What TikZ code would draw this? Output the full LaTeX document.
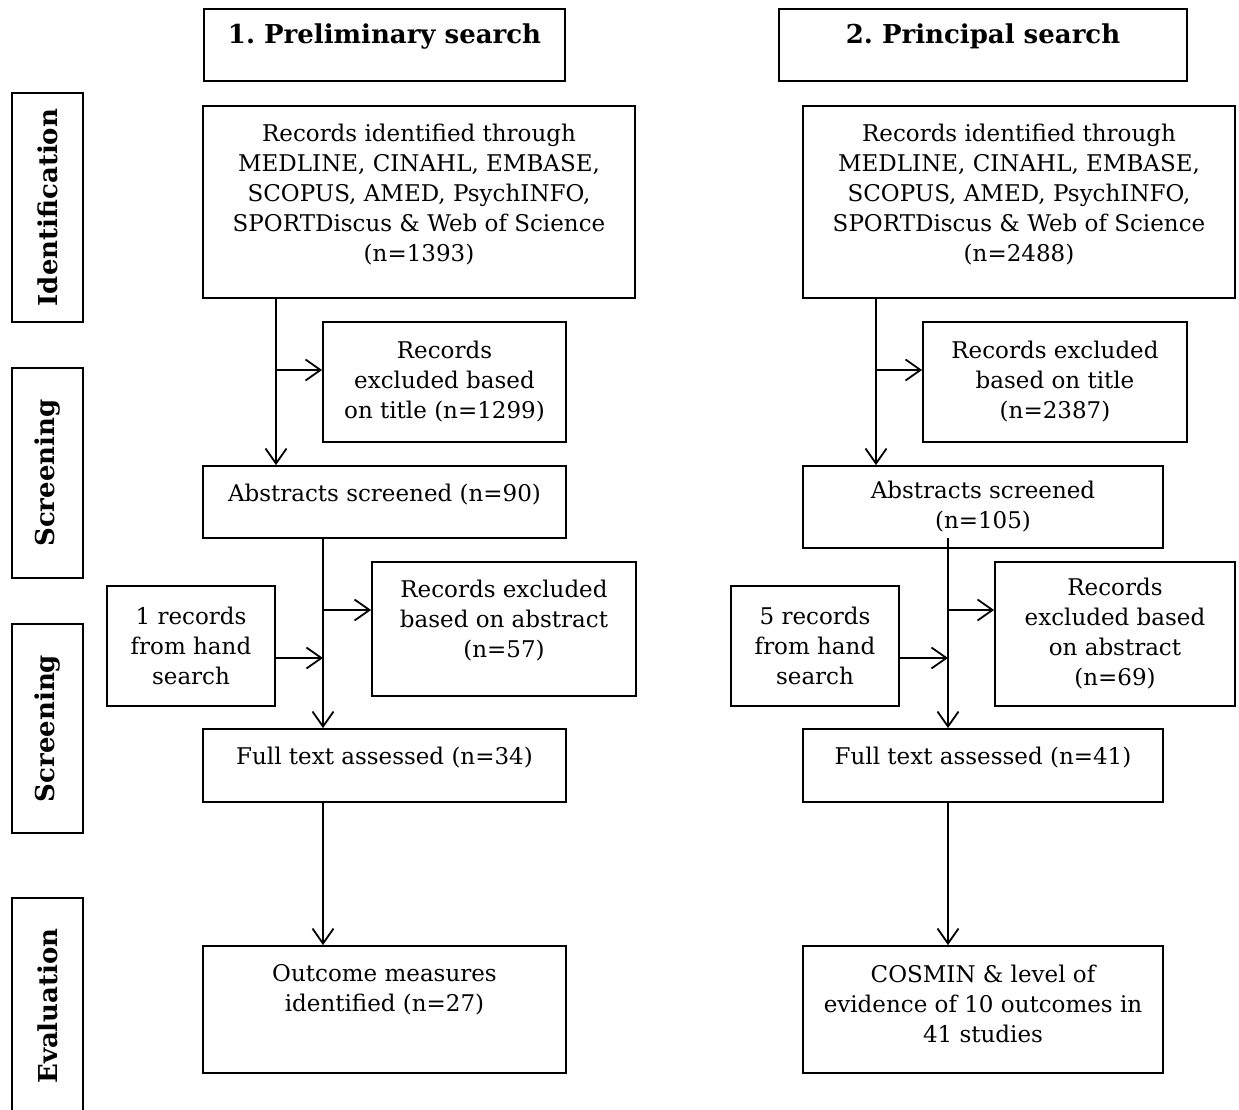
\documentclass[tikz,border=0pt]{standalone}
\usepackage{fontspec}
\setmainfont{DejaVu Serif}
\usetikzlibrary{arrows.meta}
\newcommand{\lift}[1]{\rule[-#1]{0pt}{#1}}
\frenchspacing
\begin{document}
\begin{tikzpicture}[x=1pt, y=-1pt, line width=1.8pt,
        box/.style={draw, align=center, inner sep=0pt, font=\fontsize{23}{30}\selectfont},
        head/.style={draw, align=center, inner sep=0pt, minimum height=72pt, font=\fontsize{26}{30}\selectfont\bfseries},
        side/.style={draw, rotate=90, inner sep=0pt, minimum height=71pt, font=\fontsize{26}{30}\selectfont\bfseries},
        arr/.style={-{Straight Barb[length=15pt,width=21pt]}}]
                \useasboundingbox (0, 0) rectangle (1239, 1110);

                \node[head, minimum width=361pt] (hdrL) at (384.5, 45) {1. Preliminary search\lift{22pt}};
                \node[head, minimum width=408pt] (hdrR) at (983, 45) {2. Principal search\lift{22pt}};

                \node[side, minimum width=229pt] (sId) at (47.5, 207.5) {Identification};
                \node[side, minimum width=210pt] (sScrA) at (47.5, 473) {Screening};
                \node[side, minimum width=209pt] (sScrB) at (47.5, 728.5) {Screening};
                \node[side, minimum width=216pt] (sEval) at (47.5, 1006) {Evaluation};

                \node[box, minimum width=432pt, minimum height=192pt] (recL) at (419, 202) {Records identified through\\MEDLINE, CINAHL, EMBASE,\\SCOPUS, AMED, PsychINFO,\\SPORTDiscus \& Web of Science\\(n=1393)\lift{19pt}};
                \node[box, minimum width=243pt, minimum height=120pt] (exTitleL) at (444.5, 382) {Records\\excluded based\\on title (n=1299)};
                \node[box, minimum width=363pt, minimum height=72pt] (absL) at (384.5, 502) {Abstracts screened (n=90)\lift{19pt}};
                \node[box, minimum width=168pt, minimum height=120pt] (handL) at (191, 646) {1 records\\from hand\\search};
                \node[box, minimum width=264pt, minimum height=134pt] (exAbsL) at (504, 629) {Records excluded\\based on abstract\\(n=57)\lift{21pt}};
                \node[box, minimum width=363pt, minimum height=73pt] (fullL) at (384.5, 765.5) {Full text assessed (n=34)\lift{19pt}};
                \node[box, minimum width=363pt, minimum height=127pt] (outL) at (384.5, 1009.5) {Outcome measures\\identified (n=27)\lift{43pt}};

                \node[box, minimum width=432pt, minimum height=192pt] (recR) at (1019, 202) {Records identified through\\MEDLINE, CINAHL, EMBASE,\\SCOPUS, AMED, PsychINFO,\\SPORTDiscus \& Web of Science\\(n=2488)\lift{19pt}};
                \node[box, minimum width=264pt, minimum height=120pt] (exTitleR) at (1055, 382) {Records excluded\\based on title\\(n=2387)};
                \node[box, minimum width=360pt, minimum height=82pt] (absR) at (983, 507) {Abstracts screened\\(n=105)};
                \node[box, minimum width=168pt, minimum height=120pt] (handR) at (815, 646) {5 records\\from hand\\search};
                \node[box, minimum width=240pt, minimum height=144pt] (exAbsR) at (1115, 634) {Records\\excluded based\\on abstract\\(n=69)};
                \node[box, minimum width=360pt, minimum height=73pt] (fullR) at (983, 765.5) {Full text assessed (n=41)\lift{19pt}};
                \node[box, minimum width=360pt, minimum height=127pt] (cosR) at (983, 1009.5) {COSMIN \& level of\\evidence of 10 outcomes in\\41 studies\lift{12pt}};

                \coordinate (jL1) at (276, 370);
                \coordinate (jL2) at (323, 610);
                \coordinate (jL3) at (323, 658);
                \coordinate (jR1) at (876, 370);
                \coordinate (jR0) at (948, 538);
                \coordinate (jR2) at (948, 610);
                \coordinate (jR3) at (948, 658);

                \draw[arr] (recL.south -| jL1) -- (absL.north -| jL1);
                \draw[arr] (jL1) -- (exTitleL.west |- jL1);
                \draw[arr] (absL.south -| jL2) -- (fullL.north -| jL2);
                \draw[arr] (jL2) -- (exAbsL.west |- jL2);
                \draw[arr] (handL.east |- jL3) -- (jL3);
                \draw[arr] (fullL.south -| jL2) -- (outL.north -| jL2);

                \draw[arr] (recR.south -| jR1) -- (absR.north -| jR1);
                \draw[arr] (jR1) -- (exTitleR.west |- jR1);
                \draw[arr] (jR0) -- (fullR.north -| jR0);
                \draw[arr] (jR2) -- (exAbsR.west |- jR2);
                \draw[arr] (handR.east |- jR3) -- (jR3);
                \draw[arr] (fullR.south -| jR2) -- (cosR.north -| jR2);
            \end{tikzpicture}
\end{document}
